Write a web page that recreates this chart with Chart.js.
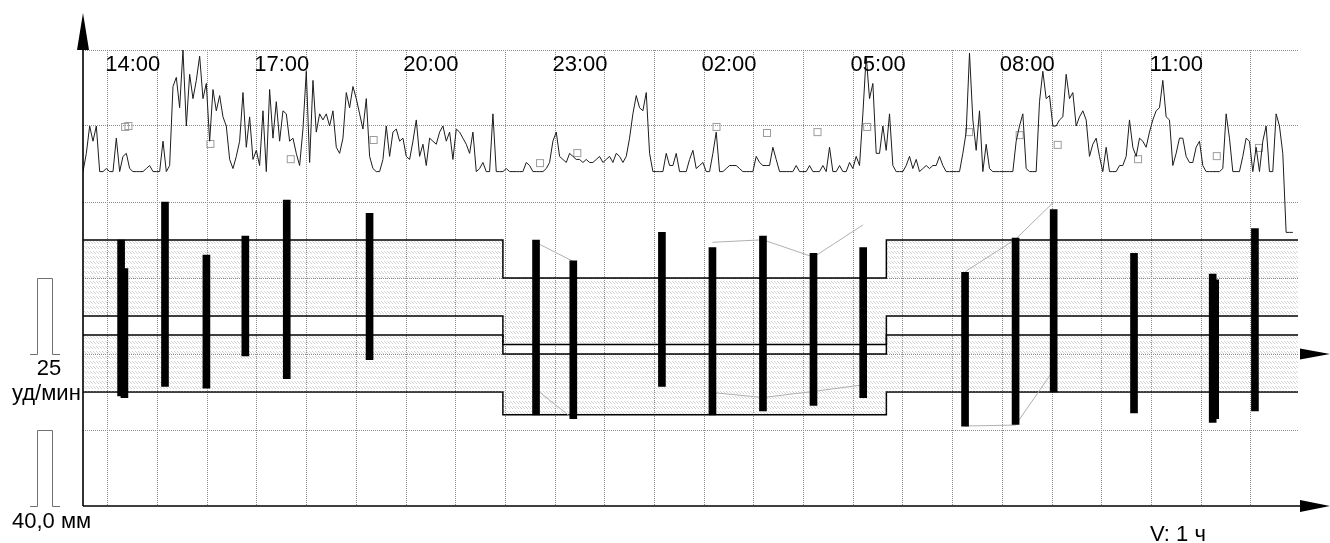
<!DOCTYPE html>
<html>
<head>
<meta charset="utf-8">
<script src="https://cdn.jsdelivr.net/npm/chart.js@4.4.1/dist/chart.umd.min.js"></script>
<style>
html,body{margin:0;padding:0;background:#fff;}
#wrap{width:1330px;height:543px;position:relative;}
canvas{display:block;}
</style>
</head>
<body>
<div id="wrap"><canvas id="c" width="1330" height="543"></canvas></div>
<script>
// ---------------- DATA ----------------
const START_TIME = "13:00";
const X_MAX_H = 24.45;               // visible span, hours from 13:00
const TRACE_STEP_MIN = 4.024;        // heart-rate trace sampling interval (min)

// heart rate trace, bpm (one value per sampling step, starting 13:00)
const hrTrace = [
 60,66,75,70,75,60,60,61,60,60,71,60,65,66,61,
 60,60,60,60,61,62,60,60,60,70,60,62,88,91,81,
 100,75,92,84,90,98,84,89,70,87,80,85,78,75,64,
 61,65,70,86,68,78,64,67,62,80,60,87,71,83,70,
 80,79,70,71,66,62,74,93,63,90,73,79,77,79,75,
 80,68,66,71,86,81,88,84,79,74,84,65,61,60,60,
 64,75,65,73,74,70,71,65,64,70,77,65,69,62,71,
 70,69,73,75,70,73,64,74,73,71,69,66,73,60,61,
 63,60,60,79,60,60,60,61,60,60,60,60,60,63,62,
 60,60,60,60,61,63,70,73,65,64,63,66,65,64,64,
 63,64,63,63,64,65,63,64,65,63,66,65,63,65,71,
 79,85,81,80,86,66,60,60,60,60,66,62,62,66,60,
 60,60,64,67,61,62,63,60,60,66,73,60,60,61,62,
 62,62,61,60,60,60,60,65,63,62,62,62,68,64,60,
 60,60,60,60,62,60,60,60,62,60,60,60,62,60,68,
 60,60,62,60,60,63,61,65,62,79,98,84,89,66,66,
 75,67,79,62,60,60,60,62,65,61,64,60,61,62,61,
 62,62,65,62,60,60,60,60,60,66,73,99,77,67,80,
 60,69,61,60,60,60,60,60,60,60,70,75,79,61,60,
 60,60,83,93,84,85,75,75,77,78,92,84,86,75,78,
 80,77,65,69,71,65,60,68,60,60,60,62,62,65,77,
 68,65,71,70,68,73,77,80,81,90,78,77,62,66,71,
 71,65,63,63,68,70,62,60,60,60,60,60,61,79,71,
 60,60,60,65,71,70,60,68,60,70,75,60,60,79,75,
 66,40,40,40
];

// blood pressure measurements
const bpTimes   = ["13:46","13:50","14:39","15:29","16:16","17:06","18:46","22:07","22:52","00:39","01:40","02:41","03:42","04:42","06:45","07:46","08:32","10:09","11:44","11:47","12:35"];
const sysValues = [140,125,160,132,142,161,154,140,129,144,136,142,133,136,123,141,156,133,122,119,146];
const diaValues = [ 58, 57, 63, 62, 79, 67, 77, 48, 46, 63, 48, 50, 53, 57, 42, 43, 60, 49, 44, 46, 50];
const hrAtBp    = [74.7,75,null,69.1,null,64.1,70.4,62.8,66.1,null,74.7,72.7,73,74.7,73,72,68.8,64.1,65.1,null,67.8];

// trend curves (grey)
const trendTimes = ["22:07","22:52",null,"01:40","02:41","03:42","04:42",null,"06:45","07:46","08:32"];
const trendSys   = [138.7,128.7,null,138.8,140.1,131,148,null,123.3,140.4,160];
const trendDia   = [61.4,45.8,null,59.7,57.1,60.3,63.8,null,42.1,42.6,71.6];

// day / night threshold periods
const periodTimes = ["13:00","21:27","05:10"];
const sysUpper = [140,120,140];
const sysLower = [100, 85,100];
const diaUpper = [ 90, 80, 90];
const diaLower = [ 60, 48, 60];

const timeLabels = ["14:00","17:00","20:00","23:00","02:00","05:00","08:00","11:00"];
const HR_SCALE_BAR = 25;   // уд/мин
const BP_SCALE_BAR = 40;   // мм
const TIME_SCALE_LABEL = "V: 1 ч";

// ---------------- HELPERS ----------------
function toHours(s){
  const [h,m] = s.split(':').map(Number);
  const [h0,m0] = START_TIME.split(':').map(Number);
  let d = (h*60+m) - (h0*60+m0);
  if (d < 0) d += 1440;
  return d/60;
}
const hatch = (() => {
  const c = document.createElement('canvas'); c.width = 3; c.height = 5;
  const g = c.getContext('2d');
  g.fillStyle = 'rgba(150,150,150,0.42)';
  g.fillRect(0,1,1,1); g.fillRect(1,2,1,1); g.fillRect(2,3,1,1);
  return g.createPattern(c, 'repeat');
})();
const squareImg = (() => {
  const c = document.createElement('canvas'); c.width = 24; c.height = 12;
  const g = c.getContext('2d');
  g.strokeStyle = '#9c9c9c'; g.lineWidth = 1;
  g.strokeRect(12.5, 2.5, 7, 7);
  return c;
})();

const traceData = hrTrace.map((v,i) => ({x: i*TRACE_STEP_MIN/60, y: v}));
const bpH = bpTimes.map(toHours);
const barData = bpH.map((t,i) => ({x: t, y: [diaValues[i], sysValues[i]]}));
const sqData = bpH.map((t,i) => ({x: t, y: hrAtBp[i]}));
function trendData(vals){
  let last = 0;
  return trendTimes.map((t,i) => {
    if (t === null) return {x: last, y: null};
    last = toHours(t);
    return {x: last, y: vals[i]};
  });
}
function thrData(vals){
  const pts = periodTimes.map((t,i) => ({x: toHours(t), y: vals[i]}));
  pts.push({x: X_MAX_H, y: vals[0]});
  return pts;
}
function thrDataset(label, vals, fill){
  return {label, type:'line', data: thrData(vals), xAxisID:'x', yAxisID:'yBP',
    stepped: true, borderColor:'#000', borderWidth:1.5, pointRadius:0,
    fill: fill, backgroundColor: hatch, order: 5};
}

// ---------------- DECORATION PLUGIN ----------------
const decor = {
  id: 'decor',
  afterDraw(chart){
    const {ctx, chartArea: a, scales} = chart;
    const xs = scales.x, yb = scales.yBP, yh = scales.yHR;
    ctx.save();
    const tri = (x1,y1,x2,y2,x3,y3) => { ctx.beginPath(); ctx.moveTo(x1,y1); ctx.lineTo(x2,y2); ctx.lineTo(x3,y3); ctx.closePath(); ctx.fill(); };
    // axes
    ctx.strokeStyle = '#000'; ctx.lineWidth = 1.6;
    ctx.beginPath();
    ctx.moveTo(a.left, a.bottom); ctx.lineTo(a.left, a.top - 8);
    ctx.moveTo(a.left, a.bottom); ctx.lineTo(a.right + 8, a.bottom);
    ctx.stroke();
    ctx.fillStyle = '#000';
    tri(a.left, a.top - 37, a.left - 6, a.top, a.left + 6, a.top);
    tri(a.right + 32, a.bottom, a.right + 2, a.bottom - 6, a.right + 2, a.bottom + 6);
    const y0 = yh.getPixelForValue(0);
    tri(a.right + 32, y0, a.right + 2, y0 - 5.5, a.right + 2, y0 + 5.5);
    // scale pulses
    ctx.strokeStyle = '#707070'; ctx.lineWidth = 1;
    const pulse = (yLow, yHigh) => {
      ctx.beginPath();
      ctx.moveTo(a.left - 53, yLow + 0.5); ctx.lineTo(a.left - 45.5, yLow + 0.5);
      ctx.lineTo(a.left - 45.5, yHigh + 0.5); ctx.lineTo(a.left - 30.5, yHigh + 0.5);
      ctx.lineTo(a.left - 30.5, yLow + 0.5); ctx.lineTo(a.left - 23, yLow + 0.5);
      ctx.stroke();
    };
    pulse(Math.round(yh.getPixelForValue(0)), Math.round(yh.getPixelForValue(HR_SCALE_BAR)));
    pulse(Math.round(yb.getPixelForValue(0)), Math.round(yb.getPixelForValue(BP_SCALE_BAR)));
    // texts
    ctx.fillStyle = '#000';
    ctx.font = '22px "Liberation Sans", Arial, sans-serif';
    ctx.textBaseline = 'alphabetic';
    ctx.textAlign = 'center';
    timeLabels.forEach(t => ctx.fillText(t, xs.getPixelForValue(toHours(t)), a.top + 21));
    ctx.fillText(String(HR_SCALE_BAR), a.left - 34, y0 + 21);
    ctx.textAlign = 'left';
    ctx.fillText('уд/мин', 12, y0 + 46);
    ctx.fillText(BP_SCALE_BAR.toFixed(1).replace('.', ',') + ' мм', 12, a.bottom + 22);
    ctx.fillText(TIME_SCALE_LABEL, a.right - 148, 541);
    ctx.restore();
  }
};

// ---------------- CHART ----------------
const hideZero = c => (c.tick && c.tick.value === 0) ? 'rgba(0,0,0,0)' : '#8e8e8e';
new Chart(document.getElementById('c'), {
  type: 'line',
  data: {
    datasets: [
      {label:'ЧСС', type:'line', data: traceData, xAxisID:'x', yAxisID:'yHR',
       borderColor:'#1c1c1c', borderWidth:1, pointRadius:0, tension:0, fill:false, order:0},
      {label:'ЧСС при измерении', type:'line', data: sqData, xAxisID:'x', yAxisID:'yHR',
       showLine:false, pointStyle: squareImg, pointRadius:4, order:1},
      {label:'АД', type:'bar', data: barData, xAxisID:'x', yAxisID:'yBP',
       backgroundColor:'#000', borderWidth:0, barThickness:7, order:2},
      {label:'тренд САД', type:'line', data: trendData(trendSys), xAxisID:'x', yAxisID:'yBP',
       borderColor:'#b0b0b0', borderWidth:1, pointRadius:0, spanGaps:false, fill:false, order:3},
      {label:'тренд ДАД', type:'line', data: trendData(trendDia), xAxisID:'x', yAxisID:'yBP',
       borderColor:'#b0b0b0', borderWidth:1, pointRadius:0, spanGaps:false, fill:false, order:3},
      thrDataset('САД верх', sysUpper, '+1'),
      thrDataset('САД низ', sysLower, false),
      thrDataset('ДАД верх', diaUpper, '+1'),
      thrDataset('ДАД низ', diaLower, false)
    ]
  },
  options: {
    responsive: false, animation: false, devicePixelRatio: 1, events: [],
    layout: { padding: {left: 83, right: 32, top: 50, bottom: 37} },
    plugins: { legend: {display:false}, tooltip: {enabled:false}, filler: {propagate:false} },
    scales: {
      x: { type:'linear', min:0, max:X_MAX_H, offset:false,
           ticks:{display:false, stepSize:1, includeBounds:false},
           grid:{color: hideZero, lineWidth:1, drawTicks:false},
           border:{display:false, dash:[1,1]} },
      yBP: { type:'linear', position:'left', min:0, max:240,
           ticks:{display:false, stepSize:40, includeBounds:false},
           grid:{color: hideZero, lineWidth:1, drawTicks:false},
           border:{display:false, dash:[1,1]} },
      yHR: { type:'linear', position:'right', min:-50, max:100, display:false }
    }
  },
  plugins: [decor]
});
</script>
</body>
</html>
